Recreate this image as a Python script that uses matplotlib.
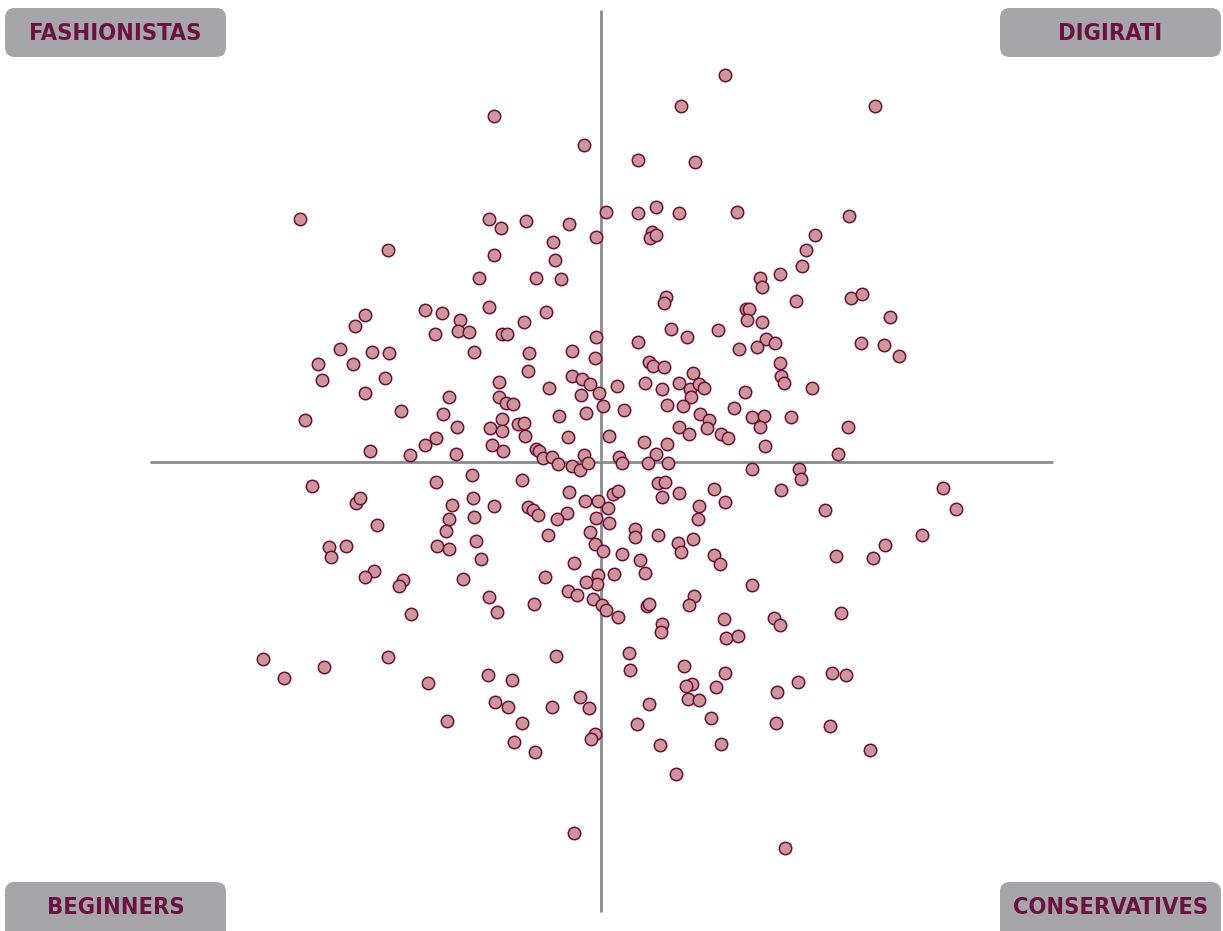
import matplotlib
matplotlib.use("Agg")
import matplotlib.pyplot as plt
from matplotlib.patches import FancyBboxPatch
from matplotlib import font_manager
import numpy as np

# Segment scores (x: horizontal dimension, y: vertical dimension)
band_top = [(124,387),(80,356),(274,356),(-107,346),(-17,317),(37,302),(94,300),(-301,243),
    (-112,243),(-100,234),(-75,241),(-32,238),(5,250),(37,249),(55,255),(78,249),(136,250),
    (248,246),(51,230),(49,224),(55,227),(-5,225),(-48,220),(-213,212),(-107,207),(-46,202),
    (214,227),(205,212)]

band_upper = [(-122,184),(-112,155),(-176,152),(-159,149),(-141,142),(-236,147),(-246,136),
    (-143,131),(-132,130),(-166,128),(-127,110),(-261,113),(-229,110),(-212,109),(-283,98),
    (-248,98),(-279,82),(-216,84),(-236,69),(-152,65),(-158,48),(-200,51),(-296,42),(-144,35),
    (-111,34),(-165,24),(-176,17),(-231,11),(-191,7),(-145,8),(-109,17),
    (-65,184),(-40,183),(-55,150),(-77,140),(-99,128),(-94,128),(-5,125),(37,120),(65,165),
    (63,159),(70,133),(86,125),(117,132),(-72,109),(-29,111),(-6,104),(-73,91),(-29,86),
    (-19,83),(-11,78),(-2,69),(-20,67),(-52,74),(-102,80),(-102,65),(-95,59),(-88,58),(2,56),
    (23,52),(16,76),(44,79),(48,100),(52,96),(63,95),(61,73),(78,79),(92,89),(89,73),(98,78),
    (103,74),(90,65),(82,56),(66,57),(99,48),(108,42),(106,34),(78,35),(88,28),(120,28),
    (127,24),(-99,43),(-99,31),(-83,38),(-77,39),(-76,26),(-42,46),(-15,49),(-33,25),(8,26),
    (43,20),(66,18),(-98,11),(-65,13),(-62,11),(-58,4),(-49,5),(-17,7),(18,5),(55,8),
    (201,196),(179,188),(159,184),(161,175),(250,164),(261,168),(195,161),(145,153),(148,153),
    (146,142),(161,140),(289,145),(165,123),(174,119),(156,115),(138,113),(260,119),(283,117),
    (298,106),(179,99),(180,86),(183,79),(211,74),(144,70),(133,54),(151,45),(163,46),(159,35),
    (190,45),(247,35),(164,16),(237,8)]

band_lower = [(-289,-24),(-165,-20),(-129,-13),(-245,-41),(-241,-36),(-149,-43),(-128,-36),
    (-107,-44),(-152,-57),(-127,-55),(-224,-63),(-155,-69),(-272,-85),(-270,-95),(-255,-84),
    (-164,-84),(-152,-87),(-125,-79),(-120,-97),(-227,-109),(-236,-115),(-198,-118),(-202,-124),
    (-138,-117),(-112,-135),(-190,-152),(-338,-197),(-213,-195),
    (-43,-2),(-29,-4),(-21,-8),(-13,-1),(21,-1),(47,-1),(67,-1),(-79,-18),(-32,-30),(-73,-45),
    (-68,-48),(-63,-53),(-34,-51),(-44,-57),(-16,-39),(-3,-39),(7,-46),(12,-32),(17,-29),
    (-5,-56),(8,-61),(57,-21),(64,-20),(61,-35),(78,-31),(113,-27),(124,-40),(98,-44),(97,-57),
    (34,-67),(34,-75),(57,-73),(77,-81),(80,-90),(92,-77),(-53,-73),(-11,-70),(-6,-82),(2,-89),
    (21,-92),(39,-98),(44,-111),(113,-93),(119,-102),(-27,-101),(-56,-115),(-3,-113),(-4,-122),
    (-15,-120),(13,-112),(-33,-129),(-24,-133),(-8,-137),(1,-143),(5,-148),(17,-155),(-104,-150),
    (-67,-142),(46,-144),(48,-142),(93,-134),(88,-143),(123,-157),(125,-176),(61,-162),(60,-170),
    (-45,-194),(28,-191),
    (151,-7),(198,-7),(200,-17),(180,-28),(224,-48),(342,-26),(355,-47),(321,-73),(284,-83),
    (272,-96),(235,-94),(151,-123),(240,-151),(173,-156),(179,-163),(137,-174)]

band_bottom = [(-317,-216),(-277,-205),(-173,-221),(-154,-259),(-113,-213),(-106,-240),
    (-89,-218),(-93,-245),(-49,-245),(-21,-235),(-12,-246),(-79,-261),(-87,-280),(-66,-290),
    (-6,-272),(-10,-277),(-27,-371),(29,-208),(83,-204),(91,-222),(85,-224),(87,-237),(98,-238),
    (115,-225),(124,-211),(48,-242),(36,-262),(110,-256),(59,-283),(120,-282),(75,-312),
    (231,-211),(245,-213),(197,-220),(176,-230),(175,-261),(229,-264),(269,-288),(184,-386)]

quadrant_labels = ["FASHIONISTAS", "DIGIRATI", "BEGINNERS", "CONSERVATIVES"]


def pick_label_font():
    """Prefer a bold condensed / narrow sans face if one is installed."""
    cands = []
    for f in font_manager.fontManager.ttflist:
        name = (f.name + " " + str(f.fname)).lower()
        st = str(f.stretch).lower()
        cond = ("condensed" in name or "narrow" in name or "condensed" in st
                or (isinstance(f.stretch, (int, float)) and f.stretch < 500))
        if not cond or "mono" in name or "serif" in name.replace("sans", ""):
            continue
        w = f.weight if isinstance(f.weight, (int, float)) else \
            {"bold": 700, "semibold": 600, "demibold": 600, "heavy": 800,
             "black": 900, "extra bold": 800}.get(str(f.weight).lower(), 400)
        if "italic" in name or "oblique" in name or str(f.style) != "normal":
            continue
        score = abs(w - 700) + (0 if "extra" not in name and "ultra" not in name else 50)
        cands.append((score, f.fname))
    if cands:
        cands.sort()
        return font_manager.FontProperties(fname=cands[0][1])
    return font_manager.FontProperties(family="Liberation Sans", weight="bold")


label_font = pick_label_font()

W, H = 1223, 931
fig = plt.figure(figsize=(W/100, H/100), dpi=100)
fig.patch.set_facecolor("white")
ax = fig.add_axes([0, 0, 1, 1])
ax.set_xlim(-601, W-601)
ax.set_ylim(462-H, 462)
ax.axis("off")

line_col = "#8b8b8d"
ax.plot([-451, 452], [0, 0], color=line_col, lw=2.0, zorder=1, solid_capstyle="butt")
ax.plot([0, 0], [-450, 452], color=line_col, lw=2.0, zorder=1, solid_capstyle="butt")

pts = np.array(band_top + band_upper + band_lower + band_bottom, dtype=float)
ax.scatter(pts[:, 0], pts[:, 1], s=80, facecolor="#cd9698", edgecolor="#6a0f3c",
           linewidth=1.1, zorder=3)

# quadrant label boxes (figure pixel layout: left, top)
boxes = [(5, 8), (1000, 8), (5, 882), (1000, 882)]
target_w = [170, 101, 132, 187]
bw, bh = 221, 49

# choose one font size so labels approach the reference widths
renderer = fig.canvas.get_renderer()
sizes = []
for lab, tw in zip(quadrant_labels, target_w):
    t = fig.text(0, 0, lab, fontproperties=label_font, fontsize=20)
    wpx = t.get_window_extent(renderer).width
    t.remove()
    sizes.append(20 * tw / wpx)
fsize = min(min(sizes) * 1.04, 22)

for (bx, by), lab in zip(boxes, quadrant_labels):
    y0 = H - by - bh
    extra = 12 if by > 800 else 0   # bottom boxes run off the lower edge
    p = FancyBboxPatch((bx/W, (y0 - extra)/H), bw/W, (bh + extra)/H,
                       boxstyle="round,pad=0,rounding_size=0.008",
                       transform=fig.transFigure, facecolor="#a6a6aa", edgecolor="none",
                       mutation_aspect=W/H, zorder=5, clip_on=False)
    fig.patches.append(p)
    fig.text((bx + bw/2)/W, (H - by - bh/2 - 1)/H, lab, ha="center", va="center",
             fontproperties=label_font, fontsize=fsize, color="#6b1242", zorder=6)

fig.savefig("out.png", dpi=100, facecolor="white")
